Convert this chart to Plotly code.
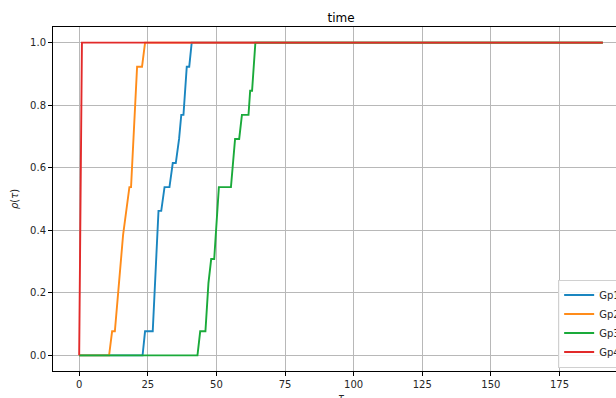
import plotly.graph_objects as go

# ---- data ----
series_names = ["Gp1", "Gp2", "Gp3", "Gp4"]

gp1_tau = [0, 23.1, 24.0, 26.8, 28.9, 29.9, 31.1, 32.9, 34.1, 35.2, 36.4, 37.2, 38.0, 39.2, 40.1, 41.0, 190.8]
gp1_rho = [0, 0, 0.077, 0.077, 0.462, 0.462, 0.538, 0.538, 0.615, 0.615, 0.692, 0.769, 0.769, 0.923, 0.923, 1.0, 1.0]

gp2_tau = [0, 10.9, 12.0, 13.0, 14.5, 16.0, 18.3, 18.9, 21.1, 22.9, 24.0, 190.8]
gp2_rho = [0, 0, 0.077, 0.077, 0.231, 0.385, 0.538, 0.538, 0.923, 0.923, 1.0, 1.0]

gp3_tau = [0, 43.1, 44.1, 46.0, 47.1, 48.1, 49.2, 50.9, 55.3, 56.8, 58.3, 59.3, 61.7, 62.3, 63.0, 64.2, 190.8]
gp3_rho = [0, 0, 0.077, 0.077, 0.231, 0.308, 0.308, 0.538, 0.538, 0.692, 0.692, 0.769, 0.769, 0.846, 0.846, 1.0, 1.0]

gp4_tau = [0, 1.0, 190.8]
gp4_rho = [0, 1.0, 1.0]

x_ticks = [0, 25, 50, 75, 100, 125, 150, 175]
y_ticks = [0.0, 0.2, 0.4, 0.6, 0.8, 1.0]

colors = ["#1a86c0", "#ff8c1a", "#1aaa3a", "#e22a2a"]

FONT = "DejaVu Sans"

fig = go.Figure()
for name, xs, ys, c in zip(series_names,
                           [gp1_tau, gp2_tau, gp3_tau, gp4_tau],
                           [gp1_rho, gp2_rho, gp3_rho, gp4_rho],
                           colors):
    fig.add_trace(go.Scatter(x=xs, y=ys, mode="lines", name=name,
                             line=dict(color=c, width=1.9)))

W, H = 660, 430
L, R, T, B = 53, 31, 27, 59

axis_common = dict(
    showline=True, linecolor="black", linewidth=1, mirror=True,
    ticks="outside", ticklen=4, tickwidth=1, tickcolor="black",
    showgrid=True, gridcolor="#b8b8b8", gridwidth=1,
    zeroline=False,
    tickfont=dict(family=FONT, size=10, color="#262626"),
)

fig.update_layout(
    width=W, height=H,
    margin=dict(l=L, r=R, t=T, b=B, pad=0),
    paper_bgcolor="white", plot_bgcolor="white",
    font=dict(family=FONT, size=10, color="#262626"),
    title=dict(text="time", x=(L + (W - R - L) / 2) / W, xanchor="center",
               yref="paper", y=1, yanchor="bottom",
               pad=dict(b=5),
               font=dict(family=FONT, size=12, color="black")),
    xaxis=dict(range=[-9.54, 200.34], tickvals=x_ticks,
               ticktext=[str(v) for v in x_ticks],
               title=dict(text="<i>τ</i>", standoff=4,
                          font=dict(family=FONT, size=10, color="#262626")),
               **axis_common),
    yaxis=dict(range=[-0.05, 1.05], tickvals=y_ticks,
               ticktext=["%.1f" % v for v in y_ticks],
               title=dict(text="<i>ρ</i>(<i>τ</i>)", standoff=9,
                          font=dict(family=FONT, size=10, color="#262626")),
               **axis_common),
    legend=dict(x=0.877, xanchor="left", y=0.01, yanchor="bottom",
                bgcolor="rgba(255,255,255,0.85)", bordercolor="#d0d0d0",
                borderwidth=1, font=dict(family=FONT, size=10, color="#262626"),
                tracegroupgap=0, itemwidth=30),
    showlegend=True,
)

fig.write_html("out.html",
               post_script="document.body.style.margin='0';"
                           "document.body.style.overflow='hidden';"
                           "document.documentElement.style.overflow='hidden';")
